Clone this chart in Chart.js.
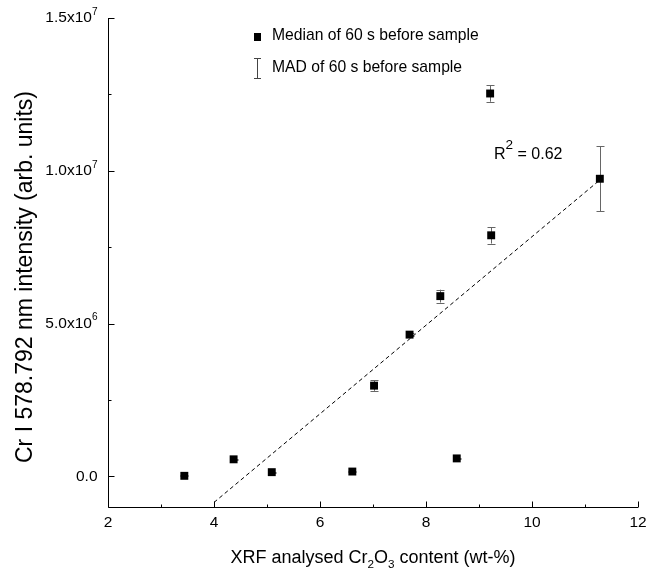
<!DOCTYPE html>
<html>
<head>
<meta charset="utf-8">
<script src="https://cdn.jsdelivr.net/npm/chart.js@4.4.1/dist/chart.umd.min.js"></script>
<style>
  body { margin: 0; background: #fff; }
  canvas { display: block; }
</style>
</head>
<body>
<canvas id="chart" width="649" height="579"></canvas>
<script>
// XRF Cr2O3 content (wt-%) vs Cr I line intensity
var xrfContent = [3.44, 4.37, 5.09, 6.61, 8.58, 7.02, 7.69, 8.27, 9.23, 9.21, 11.28];
var medianIntensity = [0.02e6, 0.56e6, 0.14e6, 0.16e6, 0.59e6, 2.97e6, 4.64e6, 5.90e6, 7.89e6, 12.53e6, 9.74e6];
var madIntensity = [0.02e6, 0.02e6, 0.02e6, 0.02e6, 0.02e6, 0.17e6, 0.06e6, 0.21e6, 0.27e6, 0.27e6, 1.06e6];
var fitX = [4.0, 11.28];
var fitY = [-0.85e6, 9.70e6];
var xMajorTicks = [2, 4, 6, 8, 10, 12];
var xMinorTicks = [3, 5, 7, 9, 11];
var yMajorTicks = [0, 5e6, 1e7, 1.5e7];
var yMajorLabels = [['0.0', ''], ['5.0x10', '6'], ['1.0x10', '7'], ['1.5x10', '7']];
var yMinorTicks = [2.5e6, 7.5e6, 1.25e7];
var rSquared = '0.62';

var FONT = '"Liberation Sans", Arial, sans-serif';

var points = [];
for (var i = 0; i < xrfContent.length; i++) {
    points.push({x: xrfContent[i], y: medianIntensity[i]});
}
var fitLine = [];
for (var j = 0; j < fitX.length; j++) {
    fitLine.push({x: fitX[j], y: fitY[j]});
}

// draw text pieces with sub/superscripts, returns width
function richText(ctx, parts, x, y, size, measureOnly) {
    var cx = x;
    for (var k = 0; k < parts.length; k++) {
        var p = parts[k];
        var s = p.s ? size * p.s : size;
        ctx.font = s + 'px ' + FONT;
        if (!measureOnly) ctx.fillText(p.t, cx, y + (p.dy || 0));
        cx += ctx.measureText(p.t).width;
    }
    return cx - x;
}

var decorPlugin = {
    id: 'decor',
    beforeDatasetsDraw: function(chart) {
        var ctx = chart.ctx;
        var xs = chart.scales.x, ys = chart.scales.y;
        ctx.save();
        ctx.strokeStyle = '#666';
        ctx.lineWidth = 1;
        for (var i = 0; i < xrfContent.length; i++) {
            var px = Math.round(xs.getPixelForValue(xrfContent[i])) + 0.5;
            var top = ys.getPixelForValue(medianIntensity[i] + madIntensity[i]);
            var bot = ys.getPixelForValue(medianIntensity[i] - madIntensity[i]);
            ctx.beginPath();
            ctx.moveTo(px, top); ctx.lineTo(px, bot);
            ctx.moveTo(px - 4, Math.round(top) + 0.5); ctx.lineTo(px + 4, Math.round(top) + 0.5);
            ctx.moveTo(px - 4, Math.round(bot) + 0.5); ctx.lineTo(px + 4, Math.round(bot) + 0.5);
            ctx.stroke();
        }
        ctx.restore();
    },
    afterDraw: function(chart) {
        var ctx = chart.ctx;
        var xs = chart.scales.x, ys = chart.scales.y;
        var a = chart.chartArea;
        var L = Math.round(a.left) + 0.5, B = Math.round(a.bottom) + 0.5;
        ctx.save();
        ctx.strokeStyle = '#000';
        ctx.lineWidth = 1;
        ctx.beginPath();
        ctx.moveTo(L, a.top); ctx.lineTo(L, B); ctx.lineTo(a.right, B);
        // x ticks (inward)
        xMajorTicks.forEach(function(v) {
            var p = Math.round(xs.getPixelForValue(v)) + 0.5;
            ctx.moveTo(p, B); ctx.lineTo(p, B - 6);
        });
        xMinorTicks.forEach(function(v) {
            var p = Math.round(xs.getPixelForValue(v)) + 0.5;
            ctx.moveTo(p, B); ctx.lineTo(p, B - 3);
        });
        yMajorTicks.forEach(function(v) {
            var p = Math.round(ys.getPixelForValue(v)) + 0.5;
            ctx.moveTo(L, p); ctx.lineTo(L + 6, p);
        });
        yMinorTicks.forEach(function(v) {
            var p = Math.round(ys.getPixelForValue(v)) + 0.5;
            ctx.moveTo(L, p); ctx.lineTo(L + 3, p);
        });
        ctx.stroke();

        ctx.fillStyle = '#000';
        // x tick labels
        ctx.font = '15.5px ' + FONT;
        ctx.textAlign = 'center';
        ctx.textBaseline = 'top';
        xMajorTicks.forEach(function(v) {
            ctx.fillText(String(v), xs.getPixelForValue(v), B + 7);
        });
        // y tick labels
        ctx.textAlign = 'left';
        ctx.textBaseline = 'middle';
        yMajorTicks.forEach(function(v, n) {
            var lab = yMajorLabels[n];
            var parts = [{t: lab[0]}, {t: lab[1], s: 0.65, dy: -6}];
            var w = richText(ctx, parts, 0, 0, 15.5, true);
            richText(ctx, parts, L - 11 - w, ys.getPixelForValue(v), 15.5, false);
        });

        // y title
        ctx.save();
        ctx.translate(26, 277);
        ctx.rotate(-Math.PI / 2);
        ctx.font = '23px ' + FONT;
        ctx.textAlign = 'center';
        ctx.textBaseline = 'middle';
        ctx.fillText('Cr I 578.792 nm intensity (arb. units)', 0, 0);
        ctx.restore();

        // x title with subscripts
        ctx.textAlign = 'left';
        ctx.textBaseline = 'alphabetic';
        var xt = [{t: 'XRF analysed Cr'}, {t: '2', s: 0.65, dy: 5}, {t: 'O'}, {t: '3', s: 0.65, dy: 5}, {t: ' content (wt-%)'}];
        var tw = richText(ctx, xt, 0, 0, 18, true);
        richText(ctx, xt, (a.left + a.right) / 2 - tw / 2, 563, 18, false);

        // R squared
        richText(ctx, [{t: 'R'}, {t: '2', s: 0.85, dy: -10}, {t: ' = ' + rSquared}], 494, 159, 16, false);

        // legend
        ctx.fillRect(254, 33, 7, 8);
        ctx.strokeStyle = '#444';
        ctx.beginPath();
        ctx.moveTo(257.5, 58); ctx.lineTo(257.5, 79);
        ctx.moveTo(254, 58.5); ctx.lineTo(261, 58.5);
        ctx.moveTo(254, 78.5); ctx.lineTo(261, 78.5);
        ctx.stroke();
        ctx.font = '15.7px ' + FONT;
        ctx.textBaseline = 'middle';
        ctx.fillText('Median of 60 s before sample', 272, 36);
        ctx.fillText('MAD of 60 s before sample', 272, 68);
        ctx.restore();
    }
};

var ctx = document.getElementById('chart').getContext('2d');
var myChart = new Chart(ctx, {
    type: 'scatter',
    data: {
        datasets: [{
            label: 'fit',
            type: 'line',
            data: fitLine,
            borderColor: '#000',
            borderWidth: 1,
            borderDash: [4, 3],
            pointRadius: 0,
            fill: false
        },
        {
            label: 'Median of 60 s before sample',
            data: points,
            pointStyle: 'rect',
            pointRadius: 5.6,
            backgroundColor: '#000',
            borderColor: '#000',
            borderWidth: 0
        }]
    },
    options: {
        responsive: false,
        animation: false,
        layout: { padding: { left: 100, right: 11, top: 18, bottom: 64 } },
        plugins: {
            legend: { display: false },
            tooltip: { enabled: false }
        },
        scales: {
            x: {
                type: 'linear',
                min: 2, max: 12,
                grid: { display: false },
                border: { display: false },
                ticks: { display: false }
            },
            y: {
                type: 'linear',
                min: -1e6, max: 1.5e7,
                grid: { display: false },
                border: { display: false },
                ticks: { display: false }
            }
        }
    },
    plugins: [decorPlugin]
});
</script>
</body>
</html>
